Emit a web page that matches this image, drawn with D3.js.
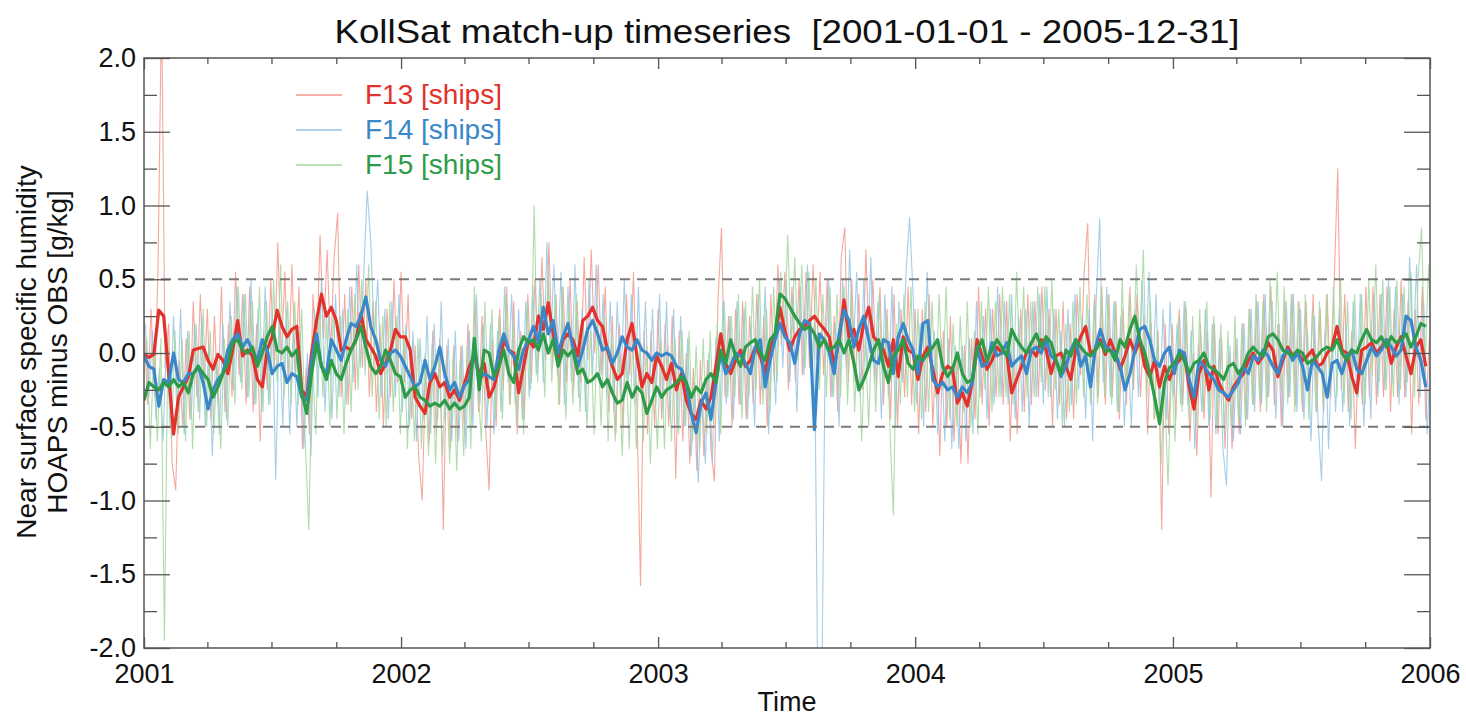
<!DOCTYPE html>
<html>
<head>
<meta charset="utf-8">
<script src="https://cdn.jsdelivr.net/npm/d3@7"></script>
<style>
  body { margin: 0; background: #fff; }
  text { font-family: "Liberation Sans", Arial, Helvetica, sans-serif; fill: #111; }
</style>
</head>
<body>
<svg id="chart"></svg>
<script>
// time sampling of the series
const startDate = new Date(Date.UTC(2001, 0, 1));
const endDate = new Date(Date.UTC(2006, 0, 1));
const smoothStepDays = 7;   // smoothed (thick) curves, weekly
const dailyStepDays = 5;    // raw (thin) curves
const dailyOffsetDays = [0, 2, 4];

const seriesNames = ["F13 [ships]", "F14 [ships]", "F15 [ships]"];

// smoothed bias, weekly from 2001-01-01
const f13Smooth = [
  -0.01,-0.03,-0.01,0.29,0.25,-0.14,-0.55,-0.30,-0.23,-0.16,
  0.02,0.03,0.04,-0.05,-0.11,-0.01,-0.05,-0.14,0.02,0.22,
  -0.02,0.02,-0.02,-0.18,-0.23,0.02,0.11,0.29,0.18,0.11,
  0.16,0.18,-0.25,-0.30,0,0.22,0.40,0.25,0.31,0.22,
  0.02,0.04,0.02,0.09,0.27,0.09,0.04,-0.02,-0.14,-0.07,
  0.02,0.16,0.11,0.11,0.02,-0.30,-0.36,-0.41,-0.2,-0.14,
  -0.23,-0.2,-0.3,-0.25,-0.32,-0.21,-0.09,-0.02,-0.14,-0.07,
  -0.3,-0.23,-0.09,0.09,0.02,0,-0.27,-0.09,0.09,0.04,
  0.25,0.16,0.34,0.13,-0.05,0.09,0.13,0.09,-0.02,0.22,
  0.25,0.31,0.22,0.18,0.02,-0.09,-0.18,-0.14,0.09,0.2,
  -0.02,-0.23,-0.14,-0.2,-0.02,-0.09,-0.18,-0.07,-0.25,-0.14,
  -0.32,-0.41,-0.45,-0.32,-0.38,-0.3,-0.09,0.13,-0.07,-0.14,
  -0.05,0.02,-0.09,-0.05,0.04,-0.02,-0.14,0.04,0.11,0.31,
  0.15,0.02,0.11,0.16,0.18,0.22,0.25,0.2,0.16,0.11,
  -0.09,0.09,0.36,0.11,0.16,0.02,0.2,0.31,0.11,0.07,
  0.02,-0.09,0.09,-0.16,0.11,0.02,0,-0.18,-0.02,0.04,
  -0.11,-0.27,-0.14,-0.09,-0.11,-0.34,-0.27,-0.36,-0.2,0.09,
  -0.02,-0.11,-0.05,0.04,0,0,-0.27,-0.18,-0.09,0,
  0.02,-0.02,0.09,0.02,-0.14,-0.02,0,-0.09,-0.18,0.02,
  0.11,0.18,0,0.02,0.09,-0.01,0.09,0,-0.11,-0.02,
  0.09,0,0.09,-0.09,-0.16,-0.05,-0.23,-0.09,-0.18,-0.09,
  -0.05,0,-0.23,-0.38,-0.14,-0.05,-0.25,-0.09,-0.2,-0.27,
  -0.32,-0.23,-0.18,-0.14,-0.05,0,-0.07,-0.02,0.07,0.02,
  -0.16,-0.05,0.04,-0.02,0,-0.05,-0.02,0.02,-0.09,-0.07,
  0,0.04,0.18,0.02,0,-0.16,-0.27,0.02,0.04,0.07,
  0,0.04,0.09,-0.07,0.04,0.11,-0.02,-0.14,0.04,0.09,
  -0.09
];
const f14Smooth = [
  -0.02,-0.09,-0.11,-0.36,-0.18,-0.2,0,-0.18,-0.2,-0.14,
  -0.14,-0.09,-0.2,-0.38,-0.25,-0.18,-0.14,0.02,0.09,0.13,
  0.04,0.09,0.02,-0.05,0.09,0.02,-0.14,-0.09,-0.07,-0.2,
  -0.14,-0.16,-0.3,-0.32,-0.05,0.13,-0.09,-0.14,0.09,0.02,
  -0.05,0.09,0.2,0.18,0.25,0.38,0.18,0.09,-0.05,-0.09,
  0,0.02,-0.02,-0.09,-0.16,-0.23,-0.2,-0.05,-0.18,-0.09,
  0.04,-0.14,-0.25,-0.2,-0.3,-0.22,-0.18,0.02,-0.18,-0.14,
  -0.16,-0.18,0.02,0.13,0.02,-0.02,-0.11,0.02,0.09,0.18,
  0.07,0.31,0.13,0.22,0,0.11,0.2,0.04,-0.09,0.02,
  0.16,0.22,0.13,0.02,0.04,-0.07,0,0.11,0.04,0.02,
  0.09,0.02,0,-0.05,0,-0.02,0,-0.02,-0.09,-0.11,
  -0.2,-0.41,-0.54,-0.34,-0.27,-0.45,-0.2,0,-0.14,-0.09,
  0,-0.02,-0.07,-0.14,0.04,0.09,-0.23,-0.05,0.09,0.2,
  0.11,0.07,-0.07,0.13,0.22,0.2,-0.52,0.13,0.09,0,
  -0.14,0.13,0.29,0.22,0.04,0.16,0.25,0.09,-0.05,-0.07,
  0.09,0.07,-0.14,0.11,0.2,0.09,0.02,-0.14,0.2,0.22,
  -0.18,-0.23,-0.2,-0.25,-0.23,-0.3,-0.23,-0.27,-0.2,0.04,
  -0.09,-0.07,0.07,-0.02,0,0.07,-0.09,-0.05,-0.02,-0.14,
  0.02,0.04,0,0.09,-0.02,-0.05,-0.16,-0.09,0.02,0.09,
  -0.09,-0.02,-0.23,0.04,0.16,0.05,0.02,0,-0.09,-0.25,
  -0.14,0.02,0.16,0.18,0.09,-0.05,-0.09,0,0.04,-0.14,
  0.02,0,-0.18,-0.3,-0.05,-0.09,-0.14,-0.18,-0.25,-0.27,
  -0.3,-0.25,-0.2,-0.09,-0.14,-0.02,-0.05,0.02,-0.02,-0.09,
  -0.14,-0.02,0.02,-0.05,0,-0.09,-0.25,-0.05,-0.09,-0.14,
  -0.3,-0.07,-0.05,-0.14,-0.02,0.02,-0.11,-0.14,-0.05,0.04,
  -0.02,0.02,0.09,0.04,-0.02,0.02,0.25,0.22,0.04,-0.05,
  -0.23
];
const f15Smooth = [
  -0.32,-0.2,-0.23,-0.25,-0.2,-0.23,-0.18,-0.23,-0.2,-0.27,
  -0.14,-0.09,-0.14,-0.18,-0.3,-0.23,-0.14,-0.07,0.07,0.09,
  0.02,0,0.04,-0.09,0,0.11,0.18,0.02,0,0.04,
  -0.02,0.02,-0.27,-0.41,-0.14,0.07,-0.09,-0.18,-0.05,-0.14,
  -0.18,-0.07,0.02,0.09,0.18,0.04,-0.09,-0.14,-0.09,0.02,
  -0.05,-0.14,-0.16,-0.3,-0.25,-0.23,-0.3,-0.32,-0.36,-0.34,
  -0.36,-0.32,-0.38,-0.34,-0.38,-0.36,-0.3,0.1,-0.25,0.02,
  0,-0.16,-0.09,0.02,-0.14,-0.2,0.02,0.11,0.07,0.09,
  0.02,0.13,0,0.09,-0.09,0.02,-0.02,0.02,-0.14,-0.11,
  -0.2,-0.18,-0.14,-0.23,-0.18,-0.27,-0.34,-0.32,-0.2,-0.3,
  -0.23,-0.27,-0.41,-0.32,-0.23,-0.3,-0.25,-0.23,-0.2,-0.16,
  -0.2,-0.3,-0.23,-0.27,-0.18,-0.14,-0.2,0.02,-0.07,0.09,
  -0.02,-0.09,0.04,0.07,0.09,0,-0.05,0.09,0.13,0.40,
  0.37,0.31,0.25,0.2,0.16,0.18,0.13,0.04,0.09,0.02,
  0.04,0.09,0,0.09,-0.07,-0.25,-0.18,-0.09,0.02,0.09,
  -0.09,-0.2,-0.02,0.02,0.09,-0.07,-0.11,-0.02,-0.05,0,
  0.04,0.09,-0.09,-0.16,-0.11,0,-0.14,-0.2,-0.18,0.02,
  0.09,-0.05,0.02,0.09,0.04,-0.02,0.16,0.09,0.04,0,
  0.07,0.13,0.04,0.11,0.07,-0.05,-0.14,0.02,-0.02,0.09,
  0.04,0,-0.02,0.02,0.07,0.01,0.02,-0.05,0.09,0.04,
  0.16,0.25,0.09,0,-0.14,-0.3,-0.48,-0.2,-0.1,-0.07,
  0,-0.05,-0.14,-0.07,-0.05,0,-0.09,-0.11,-0.14,-0.18,
  -0.09,-0.07,-0.14,-0.09,0,0.04,0,-0.02,0.11,0.13,
  0.09,0.02,0,-0.02,0.02,0,-0.07,-0.05,-0.02,0.02,
  0.04,0.02,0.09,0,-0.05,0.02,0,0.09,0.16,0.09,
  0.07,0.11,0.04,0.11,0.07,0.09,0.13,0.04,0.11,0.2,
  0.18
];

// raw match-up bias, every 5 days
const f13Daily = [
  0.25,-0.35,0.3,-0.3,0.6,2.4,-0.1,0.2,-0.75,-0.93,
  -0.05,-0.5,0.1,-0.45,0.35,-0.3,0.4,-0.25,0.3,-0.45,
  0.25,-0.35,0.45,-0.4,0.2,-0.3,0.55,-0.15,0.4,-0.35,
  0.45,-0.4,0.2,-0.6,0.15,-0.25,0.5,-0.1,0.75,-0.05,
  0.55,-0.2,0.6,-0.15,0.45,-0.65,-0.1,-0.55,0.4,-0.05,
  0.8,0.1,0.7,0.0,0.65,0.95,-0.3,0.4,-0.35,0.45,
  -0.25,0.6,-0.1,0.5,-0.3,0.35,-0.4,0.2,-0.5,0.3,
  -0.3,0.5,-0.2,0.55,-0.2,0.4,-0.45,0.05,-0.7,-1.0,
  -0.1,-0.6,0.15,-0.55,0.1,-1.2,0.05,-0.65,0.05,-0.6,
  0.05,-0.55,0.2,-0.45,0.35,-0.4,0.25,-0.5,-0.93,0.1,
  -0.5,0.3,-0.25,0.45,-0.35,0.35,-0.55,0.15,-0.45,0.4,
  -0.2,0.5,-0.05,0.65,-0.05,0.75,-0.1,0.4,-0.35,0.45,
  -0.2,0.5,-0.25,0.35,-0.2,0.65,-0.05,0.7,0.0,0.6,
  -0.15,0.45,-0.4,0.25,-0.55,0.2,-0.5,0.4,-0.15,0.55,
  -0.4,-1.58,0.15,-0.55,0.15,-0.5,0.3,-0.45,0.2,-0.5,
  0.25,-0.85,0.15,-0.6,0.0,-0.75,-0.1,-0.8,-0.05,-0.7,
  -0.05,-0.65,-0.87,0.35,0.85,-0.3,0.25,-0.5,0.3,-0.35,
  0.35,-0.45,0.25,-0.35,0.4,-0.35,0.25,-0.5,0.4,-0.2,
  0.6,0.05,0.55,-0.25,0.45,-0.2,0.5,-0.15,0.55,-0.1,
  0.6,-0.05,0.55,-0.15,0.5,-0.3,0.25,-0.4,0.65,0.85,
  -0.2,0.5,-0.2,0.4,-0.25,0.7,0.0,0.5,-0.25,0.45,
  -0.35,0.3,-0.45,0.4,-0.5,0.3,-0.3,0.45,-0.35,0.3,
  -0.55,0.3,-0.4,0.4,-0.5,0.1,-0.7,0.15,-0.5,0.25,
  -0.6,0.0,-0.75,0.05,-0.75,0.1,-0.45,0.45,-0.35,0.3,
  -0.5,0.3,-0.3,0.4,-0.35,0.35,-0.6,0.1,-0.55,0.3,
  -0.4,0.4,-0.35,0.35,-0.3,0.45,-0.25,0.3,-0.5,0.3,
  -0.35,0.35,-0.45,0.2,-0.45,0.4,-0.15,0.55,0.88,-0.35,
  0.4,-0.3,0.45,-0.35,0.4,-0.3,0.35,-0.45,0.3,-0.35,
  0.45,-0.25,0.4,-0.3,0.25,-0.55,0.2,-0.45,0.15,-1.2,
  0.2,-0.55,0.2,-0.45,0.3,-0.35,0.3,-0.6,0.0,-0.7,
  0.2,-0.45,0.15,-0.98,0.2,-0.55,0.1,-0.65,0.0,-0.65,
  0.1,-0.55,0.2,-0.45,0.3,-0.35,0.35,-0.4,0.4,-0.3,
  0.45,-0.35,0.2,-0.5,0.35,-0.3,0.4,-0.35,0.35,-0.4,
  0.35,-0.35,0.4,-0.4,0.3,-0.4,0.4,-0.3,0.5,1.25,
  -0.25,0.4,-0.4,0.15,-0.65,0.1,-0.35,0.45,-0.3,0.45,
  -0.35,0.4,-0.3,0.45,-0.4,0.3,-0.3,0.5,-0.3,0.35,
  -0.55,0.3,-0.35,0.45,-0.45,0.1
];
const f14Daily = [
  0.2,-0.3,0.15,-0.45,-0.1,-0.6,0.1,-0.5,0.25,-0.45,0.3,-0.55,0.15,-0.45,
  0.2,-0.4,0.25,-0.5,0.05,-0.7,0.0,-0.55,0.2,-0.45,0.35,-0.25,0.45,-0.2,
  0.4,-0.3,0.5,-0.35,0.3,-0.4,0.45,-0.35,0.3,-0.86,0.2,-0.5,0.3,-0.55,
  0.2,-0.5,0.15,-0.65,0.0,-0.7,0.3,-0.3,0.5,-0.4,0.25,-0.45,0.4,-0.3,
  0.3,-0.35,0.45,-0.2,0.6,-0.1,0.55,1.1,0.75,0.1,0.5,-0.3,0.3,-0.45,
  0.35,-0.3,0.4,-0.4,0.2,-0.5,0.15,-0.6,0.1,-0.45,0.25,-0.55,0.2,-0.45,
  0.35,-0.45,0.1,-0.6,0.15,-0.6,0.05,-0.65,0.15,-0.5,0.4,-0.35,0.2,-0.5,
  0.2,-0.55,0.15,-0.4,0.45,-0.2,0.4,-0.35,0.3,-0.45,0.35,-0.3,0.45,-0.15,
  0.5,-0.2,0.75,0.0,0.6,-0.15,0.55,-0.35,0.45,-0.2,0.6,-0.3,0.3,-0.4,
  0.5,-0.15,0.6,-0.2,0.4,-0.3,0.35,-0.4,0.35,-0.3,0.5,-0.25,0.4,-0.35,
  0.45,-0.3,0.35,-0.4,0.3,-0.35,0.4,-0.4,0.35,-0.45,0.3,-0.5,0.25,-0.5,
  0.1,-0.7,-0.2,-0.88,-0.2,-0.75,0.0,-0.75,0.1,-0.6,0.35,-0.35,0.25,-0.45,
  0.35,-0.35,0.3,-0.45,0.2,-0.5,0.4,-0.25,0.45,-0.55,0.15,-0.35,0.5,-0.1,
  0.5,-0.2,0.4,-0.4,0.45,-0.15,0.6,-0.1,0.2,-2.5,-2.5,-0.1,0.5,-0.3,
  0.2,-0.5,0.5,-0.1,0.7,0.0,0.55,-0.3,0.5,-0.15,0.65,-0.2,0.35,-0.45,
  0.4,-0.3,0.45,-0.5,0.35,-0.2,0.55,0.92,0.4,-0.35,0.2,-0.5,0.55,-0.1,
  0.15,-0.55,0.1,-0.6,0.1,-0.65,0.05,-0.65,0.05,-0.6,0.1,-0.55,0.35,-0.3,
  0.25,-0.45,0.3,-0.35,0.45,-0.3,0.35,-0.35,0.4,-0.45,0.25,-0.4,0.3,-0.5,
  0.35,-0.3,0.4,-0.35,0.45,-0.3,0.3,-0.45,0.15,-0.5,0.3,-0.35,0.4,-0.25,
  0.25,-0.45,0.3,-0.6,0.35,0.91,-0.2,0.45,-0.3,0.35,-0.4,0.25,-0.5,0.05,
  -0.5,0.3,-0.3,0.5,-0.15,0.55,-0.2,0.4,-0.4,0.3,-0.45,0.35,-0.3,0.2,
  -0.35,0.35,-0.35,0.15,-0.65,0.05,-0.4,0.3,-0.5,0.2,-0.55,0.1,-0.65,-0.9,
  0.05,-0.6,0.1,-0.55,0.2,-0.45,0.3,-0.4,0.35,-0.35,0.4,-0.3,0.35,-0.45,
  0.2,-0.5,0.35,-0.3,0.4,-0.4,0.3,-0.45,0.15,-0.6,0.25,-0.45,-0.87,0.15,
  -0.65,0.1,-0.4,0.3,-0.4,0.2,-0.5,0.35,-0.3,0.4,-0.5,0.2,-0.45,0.4,
  -0.3,0.4,-0.25,0.5,-0.2,0.45,-0.35,0.4,-0.3,0.65,0.0,0.6,-0.3,0.35,-0.55,0.05
];
const f15Daily = [
  0.1,-0.65,0.05,-0.6,0.1,-1.95,0.1,-0.6,0.15,-0.55,0.1,-0.6,0.15,-0.65,
  0.2,-0.45,0.3,-0.5,0.15,-0.55,-0.05,-0.65,0.1,-0.5,0.25,-0.35,0.45,-0.25,
  0.4,-0.3,0.35,-0.35,0.45,-0.4,0.35,-0.35,0.5,-0.2,0.6,-0.3,0.35,-0.35,
  0.35,-0.35,0.3,-0.6,-1.2,-0.05,-0.55,0.35,-0.3,0.25,-0.5,0.3,-0.45,0.25,
  -0.55,0.3,-0.4,0.4,-0.25,0.5,-0.15,0.6,-0.3,0.35,-0.45,0.25,-0.5,0.35,
  -0.4,0.25,-0.55,0.15,-0.65,0.05,-0.6,0.1,-0.65,0.0,-0.7,0.05,-0.75,0.0,
  -0.7,-0.05,-0.75,0.0,-0.8,-0.05,-0.7,0.05,-0.65,0.45,-0.2,-0.6,0.35,-0.35,
  0.3,-0.45,0.25,-0.45,0.4,-0.35,0.2,-0.5,0.1,-0.55,0.35,-0.25,1.0,-0.2,
  0.4,-0.3,0.55,-0.2,0.4,-0.35,0.45,-0.45,0.3,-0.35,0.4,-0.4,0.2,-0.5,
  0.15,-0.55,0.2,-0.5,0.25,-0.6,0.15,-0.6,0.05,-0.7,0.0,-0.65,0.1,-0.65,
  0.1,-0.6,0.05,-0.75,-0.05,-0.65,0.1,-0.65,0.05,-0.6,0.1,-0.55,0.15,-0.5,
  0.15,-0.6,0.05,-0.65,0.1,-0.55,0.15,-0.5,0.2,-0.55,0.35,-0.3,0.25,-0.3,
  0.4,-0.45,0.35,-0.3,0.45,-0.25,0.5,-0.35,0.3,-0.4,0.45,-0.2,0.55,0.1,
  0.8,0.05,0.65,-0.05,0.6,-0.1,0.55,-0.15,0.5,-0.25,0.4,-0.3,0.45,-0.3,
  0.4,-0.3,0.45,-0.35,0.4,-0.4,0.2,-0.6,0.1,-0.5,0.25,-0.4,0.4,-0.25,
  0.25,-0.5,-1.1,0.2,-0.35,0.4,-0.3,0.45,-0.4,0.3,-0.45,0.35,-0.4,0.35,
  -0.3,0.4,-0.25,0.45,-0.45,0.2,-0.5,0.25,-0.4,0.35,-0.5,0.15,-0.55,0.35,
  -0.25,0.45,-0.4,0.35,-0.3,0.45,-0.3,0.4,-0.35,0.55,-0.15,0.45,-0.3,0.35,
  -0.3,0.45,-0.2,0.45,-0.3,0.5,-0.25,0.3,-0.5,0.2,-0.4,0.35,-0.35,0.45,
  -0.3,0.4,-0.35,0.35,-0.35,0.45,-0.3,0.4,-0.35,0.35,-0.4,0.5,-0.25,0.4,
  -0.2,0.6,-0.05,0.7,-0.3,0.35,-0.45,0.15,-0.75,-0.2,-0.9,-0.1,-0.6,0.25,
  -0.4,0.35,-0.45,0.25,-0.5,0.3,-0.4,0.35,-0.45,0.25,-0.5,0.2,-0.55,0.15,
  -0.5,0.25,-0.45,0.2,-0.5,0.3,-0.35,0.4,-0.3,0.35,-0.4,0.5,-0.2,0.55,
  -0.25,0.45,-0.35,0.4,-0.4,0.35,-0.35,0.4,-0.45,0.3,-0.4,0.35,-0.35,0.4,
  -0.3,0.45,-0.3,0.5,-0.35,0.35,-0.45,0.4,-0.3,0.4,-0.35,0.5,-0.15,0.6,
  -0.2,0.5,-0.25,0.45,-0.3,0.5,-0.25,0.45,-0.2,0.55,-0.3,0.5,0.85,-0.1,0.6,-0.15
];

// axis ticks
const yMajorTicks = [-2, -1.5, -1, -0.5, 0, 0.5, 1, 1.5, 2];
const yTickLabels = ["-2.0", "-1.5", "-1.0", "-0.5", "0.0", "0.5", "1.0", "1.5", "2.0"];
const yMinorTicks = [-1.75, -1.25, -0.75, -0.25, 0.25, 0.75, 1.25, 1.75];
const yearTicks = [2001, 2002, 2003, 2004, 2005, 2006];
const refLevels = [-0.5, 0.5];

const W = 1466, H = 719;
const margin = { left: 144, right: 36, top: 58, bottom: 71 };
const pw = W - margin.left - margin.right;
const ph = H - margin.top - margin.bottom;

const thickColors = ["#e3312b", "#3a87c9", "#2e9b48"];
const thinColors = ["#f29a8c", "#94c5e6", "#a3d69d"];
const labelColors = ["#e3312b", "#3a87c9", "#2e9b48"];

const svg = d3.select("#chart").attr("width", W).attr("height", H);

const x = d3.scaleUtc().domain([startDate, endDate]).range([0, pw]);
const y = d3.scaleLinear().domain([-2, 2]).range([ph, 0]);

const dayToDate = (n) => new Date(startDate.getTime() + n * 86400000);

const toPoints = (values, step, offset) =>
  values.map((v, i) => ({ date: dayToDate(offset + i * step), value: v }));

const smooth = [f13Smooth, f14Smooth, f15Smooth].map((s) => toPoints(s, smoothStepDays, 0));
const daily = [f13Daily, f14Daily, f15Daily].map((s, i) =>
  toPoints(s, dailyStepDays, dailyOffsetDays[i])
);

const g = svg.append("g").attr("transform", `translate(${margin.left},${margin.top})`);

svg.append("defs").append("clipPath").attr("id", "plotClip")
  .append("rect").attr("width", pw).attr("height", ph);

const line = d3.line().x((d) => x(d.date)).y((d) => y(d.value));

const plot = g.append("g").attr("clip-path", "url(#plotClip)");

// raw curves
daily.forEach((pts, i) => {
  plot.append("path").datum(pts)
    .attr("d", line)
    .attr("fill", "none")
    .attr("stroke", thinColors[i])
    .attr("stroke-width", 1.1)
    .attr("stroke-opacity", 0.85);
});

// reference lines at +-0.5
g.selectAll(".ref").data(refLevels).enter().append("line")
  .attr("x1", 0).attr("x2", pw)
  .attr("y1", (d) => y(d)).attr("y2", (d) => y(d))
  .attr("stroke", "#7a7a7a").attr("stroke-width", 2)
  .attr("stroke-dasharray", "10,7");

// smoothed curves
smooth.forEach((pts, i) => {
  plot.append("path").datum(pts)
    .attr("d", line)
    .attr("fill", "none")
    .attr("stroke", thickColors[i])
    .attr("stroke-width", 3.2)
    .attr("stroke-linejoin", "round");
});

// axes: ticks pointing inward on all four sides
const yearDates = yearTicks.map((yr) => new Date(Date.UTC(yr, 0, 1)));
const quarterDates = d3.utcMonth.every(3).range(startDate, endDate)
  .filter((d) => d.getUTCMonth() !== 0);

const axisStyle = (sel) => {
  sel.select(".domain").remove();
  sel.selectAll(".tick line").attr("stroke", "#555").attr("stroke-width", 1.3);
  sel.selectAll("text").style("font-size", "27px").attr("fill", "#111");
};

g.append("g").attr("transform", `translate(0,${ph})`)
  .call(d3.axisBottom(x).tickValues(yearDates).tickSize(-11).tickPadding(16)
    .tickFormat(d3.utcFormat("%Y")))
  .call(axisStyle);
g.append("g").attr("transform", `translate(0,${ph})`)
  .call(d3.axisBottom(x).tickValues(quarterDates).tickSize(-6).tickFormat(""))
  .call(axisStyle);
g.append("g")
  .call(d3.axisTop(x).tickValues(yearDates).tickSize(-11).tickFormat(""))
  .call(axisStyle);
g.append("g")
  .call(d3.axisTop(x).tickValues(quarterDates).tickSize(-6).tickFormat(""))
  .call(axisStyle);

g.append("g")
  .call(d3.axisLeft(y).tickValues(yMajorTicks).tickSize(-26).tickPadding(8)
    .tickFormat((d, i) => yTickLabels[i]))
  .call(axisStyle);
g.append("g")
  .call(d3.axisLeft(y).tickValues(yMinorTicks).tickSize(-13).tickFormat(""))
  .call(axisStyle);
g.append("g").attr("transform", `translate(${pw},0)`)
  .call(d3.axisRight(y).tickValues(yMajorTicks).tickSize(-26).tickFormat(""))
  .call(axisStyle);
g.append("g").attr("transform", `translate(${pw},0)`)
  .call(d3.axisRight(y).tickValues(yMinorTicks).tickSize(-13).tickFormat(""))
  .call(axisStyle);

// frame
g.append("rect").attr("width", pw).attr("height", ph)
  .attr("fill", "none").attr("stroke", "#555").attr("stroke-width", 1.5);

// title
svg.append("text")
  .attr("x", 787).attr("y", 43)
  .attr("text-anchor", "middle")
  .attr("textLength", 905)
  .attr("lengthAdjust", "spacingAndGlyphs")
  .attr("xml:space", "preserve")
  .style("font-size", "33px")
  .text("KollSat match-up timeseries  [2001-01-01 - 2005-12-31]");

// axis titles
svg.append("text")
  .attr("x", 787).attr("y", 711)
  .attr("text-anchor", "middle")
  .style("font-size", "27px")
  .text("Time");

const yTitle = svg.append("g").attr("transform", "translate(0,352) rotate(-90)");
yTitle.append("text").attr("x", 0).attr("y", 36)
  .attr("text-anchor", "middle").style("font-size", "28px")
  .text("Near surface specific humidity");
yTitle.append("text").attr("x", 0).attr("y", 67)
  .attr("text-anchor", "middle").style("font-size", "28px")
  .text("HOAPS minus OBS [g/kg]");

// legend
const legend = svg.append("g").attr("transform", "translate(296,95)");
seriesNames.forEach((name, i) => {
  const row = legend.append("g").attr("transform", `translate(0,${i * 35})`);
  row.append("line").attr("x1", 0).attr("x2", 46).attr("y1", 0).attr("y2", 0)
    .attr("stroke", thinColors[i]).attr("stroke-width", 1.5);
  row.append("text").attr("x", 69).attr("y", 9)
    .style("font-size", "28px")
    .style("fill", labelColors[i])
    .text(name);
});
</script>
</body>
</html>
